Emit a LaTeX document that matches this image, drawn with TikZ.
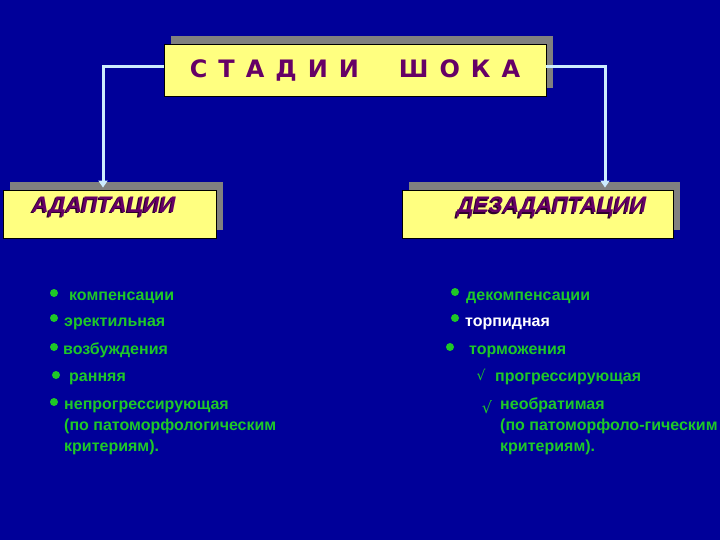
\documentclass[tikz,border=0pt]{standalone}
\usepackage{fontspec}
\setmainfont{Liberation Sans}
\newfontfamily\checkfont{DejaVu Sans}
\newfontfamily\titlefont{DejaVu Sans}
\usepackage{tikz}
\usetikzlibrary{arrows.meta,shadows}

\definecolor{slidebg}{RGB}{0,0,153}
\definecolor{boxyellow}{RGB}{255,255,128}
\definecolor{shadowgray}{RGB}{128,128,128}
\definecolor{titlepurple}{RGB}{102,0,102}
\definecolor{shadepurple}{RGB}{45,0,45}
\definecolor{linkblue}{RGB}{204,236,255}
\definecolor{itemgreen}{RGB}{30,200,40}

\begin{document}
\begin{tikzpicture}[
      x=1pt, y=-1pt,
      box/.style={draw=black, line width=0.8pt, fill=boxyellow, inner sep=0pt,
        general shadow={fill=shadowgray, shadow xshift=7pt, shadow yshift=8pt}},
      head/.style={font=\fontsize{22.5}{25}\selectfont\bfseries\itshape, text=titlepurple, inner sep=0pt},
      headshade/.style={head, text=shadepurple},
      conn/.style={draw=linkblue, line width=3pt, -{Triangle[width=9pt,length=7pt,fill=linkblue]}},
      item/.style={anchor=base west, inner sep=0pt, text=itemgreen, font=\fontsize{16}{21}\selectfont\bfseries, align=left},
      dot/.style={circle, fill=itemgreen, inner sep=0pt, minimum size=8pt},
      tick/.style={inner sep=0pt, text=itemgreen, font=\checkfont}
    ]
    % slide background
    \fill[slidebg] (0,0) rectangle (720,540);
    \useasboundingbox (0,0) rectangle (720,540);

    % title box
    \node[box, minimum width=382pt, minimum height=52pt, text=titlepurple,
      font=\titlefont\fontsize{24}{27}\selectfont\bfseries] (title) at (355,70)
      {\spaceskip=11pt С Т А Д И И\hspace{40pt}Ш О К А};

    % the two kinds of shock
    \node[box, minimum width=213pt, minimum height=48pt] (adapt) at (109.5,214) {};
    \node[box, minimum width=271pt, minimum height=48pt] (disadapt) at (537.5,214) {};
    \node[headshade] (adaptshade) at (102.5,208.5) {АДАПТАЦИИ};
    \node[head] (adapttext) at (104,207) {АДАПТАЦИИ};
    \node[headshade] (disadaptshade) at (550.5,208.5) {ДЕЗАДАПТАЦИИ};
    \node[head] (disadapttext) at (552,207) {ДЕЗАДАПТАЦИИ};

    % connectors from the title
    \draw[conn] ([yshift=3pt]title.west) -| ([xshift=-6.5pt,yshift=2pt]adapt.north);
    \draw[conn] ([yshift=3pt]title.east) -| ([xshift=67.5pt,yshift=2pt]disadapt.north);

    % left list
    \node[dot] (ld1) at (54,293) {};
    \node[item] (lt1) at (69,300) {компенсации};
    \node[dot] (ld2) at (54,318) {};
    \node[item] (lt2) at (64,326) {эректильная};
    \node[dot] (ld3) at (54,347) {};
    \node[item] (lt3) at (63,354) {возбуждения};
    \node[dot] (ld4) at (56,375) {};
    \node[item] (lt4) at (69,381) {ранняя};
    \node[dot] (ld5) at (54,402) {};
    % multi-line items sit on their last baseline
    \node[item] (lt5) at (64,451) {непрогрессирующая\\(по патоморфологическим\\критериям).};

    % right list
    \node[dot] (rd1) at (455,292) {};
    \node[item] (rt1) at (466,300) {декомпенсации};
    \node[dot] (rd2) at (455,318) {};
    \node[item, text=white] (rt2) at (465,326) {торпидная};
    \node[dot] (rd3) at (450,347) {};
    \node[item] (rt3) at (469,354) {торможения};
    \node[tick, font=\checkfont\fontsize{14}{16}\selectfont] (rc1) at (481,375) {√};
    \node[item] (rt4) at (495,381) {прогрессирующая};
    \node[tick, font=\checkfont\fontsize{16}{18}\selectfont] (rc2) at (487,407) {√};
    \node[item] (rt5) at (500,451) {необратимая\\(по патоморфоло-гическим\\критериям).};
  \end{tikzpicture}
\end{document}
